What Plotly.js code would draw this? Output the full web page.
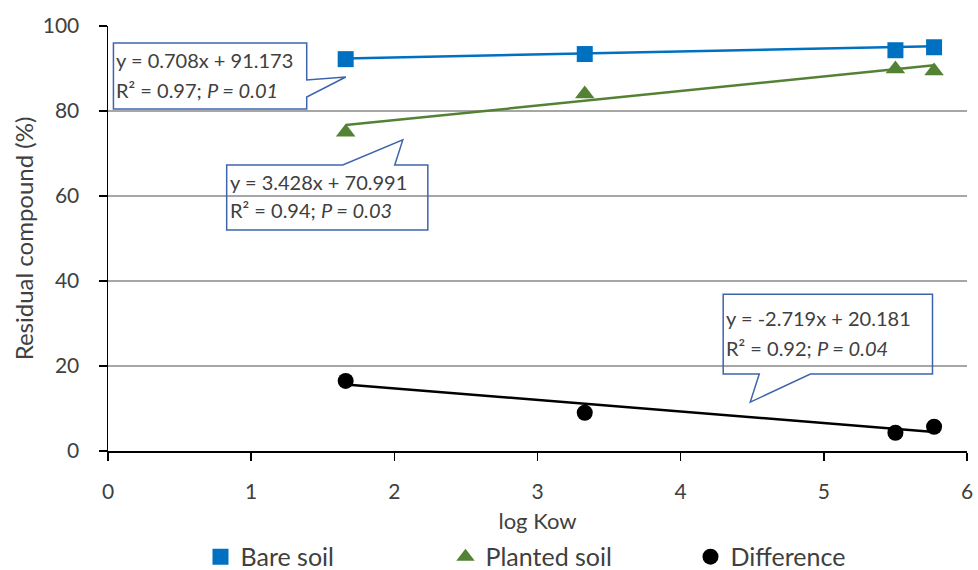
<!DOCTYPE html>
<html><head><meta charset="utf-8">
<script src="https://cdn.plot.ly/plotly-3.0.1.min.js"></script>
<style>html,body{margin:0;padding:0;background:#fff}#chart{width:978px;height:570px}</style>
</head><body><div id="chart"></div>
<script>
// Data
const logKow = [1.66, 3.33, 5.50, 5.77];
const bareSoil = [92.2, 93.4, 94.3, 95.0];
const plantedSoil = [75.0, 84.0, 89.9, 89.4];
const difference = [16.5, 9.0, 4.3, 5.7];
// Trendline endpoints (at min and max log Kow)
const trendX = [1.66, 5.77];
const bareTrend = [92.35, 95.26];
const plantedTrend = [76.68, 90.77];
const diffTrend = [15.67, 4.49];
const eqBare = ["y = 0.708x + 91.173", "R\u00B2 = 0.97; <i>P = 0.01</i>"];
const eqPlanted = ["y = 3.428x + 70.991", "R\u00B2 = 0.94; <i>P = 0.03</i>"];
const eqDiff = ["y = -2.719x + 20.181", "R\u00B2 = 0.92; <i>P = 0.04</i>"];
const xTicks = [0, 1, 2, 3, 4, 5, 6];
const yTicks = [0, 20, 40, 60, 80, 100];

const FONT = "Lato, 'Open Sans', sans-serif";
const TXT = "#404040";
const blue = "#0070C0", green = "#548235", black = "#000000";

const traces = [
  {x: trendX, y: bareTrend, mode: "lines", line: {color: blue, width: 2.5}, showlegend: false, hoverinfo: "skip"},
  {x: trendX, y: plantedTrend, mode: "lines", line: {color: green, width: 2.5}, showlegend: false, hoverinfo: "skip"},
  {x: trendX, y: diffTrend, mode: "lines", line: {color: black, width: 2.5}, showlegend: false, hoverinfo: "skip"},
  {x: logKow, y: bareSoil, name: "Bare soil", mode: "markers", marker: {symbol: "square", size: 16, color: blue}},
  {x: logKow, y: plantedSoil, name: "Planted soil", mode: "markers", marker: {symbol: "triangle-up", size: 17, color: green}},
  {x: logKow, y: difference, name: "Difference", mode: "markers", marker: {symbol: "circle", size: 16, color: black}}
];

const boxLine = {color: "#3F64AE", width: 1.5};
function callout(path){ return {type: "path", xref: "x", yref: "y", path: path, line: boxLine, fillcolor: "rgba(0,0,0,0)", layer: "above"}; }
const shapes = [
  callout("M0.038,96 L1.388,96 L1.388,87.3 L1.661,88.0 L1.388,83.3 L1.388,80.5 L0.038,80.5 Z"),
  callout("M0.829,67.3 L1.640,67.3 L2.059,73.2 L2.003,67.3 L2.234,67.3 L2.234,52.0 L0.829,52.0 Z"),
  callout("M4.297,36.9 L5.759,36.9 L5.759,18.1 L4.906,18.1 L4.486,11.5 L4.549,18.1 L4.297,18.1 Z")
];
function txt(x, y, t){ return {x: x, y: y, xref: "x", yref: "y", text: t, showarrow: false, xanchor: "left", yanchor: "middle", align: "left", font: {family: FONT, size: 20, color: TXT}}; }
const annotations = [
  txt(0.045, 92.0, eqBare[0]), txt(0.045, 85.0, eqBare[1]),
  txt(0.84, 63.4, eqPlanted[0]), txt(0.84, 56.6, eqPlanted[1]),
  txt(4.305, 31.3, eqDiff[0]), txt(4.305, 24.3, eqDiff[1])
];

const layout = {
  width: 978, height: 570,
  margin: {l: 108, r: 11, t: 26, b: 119},
  paper_bgcolor: "#fff", plot_bgcolor: "#fff",
  font: {family: FONT, size: 21, color: TXT},
  xaxis: {range: [0, 6], tickvals: xTicks, ticks: "outside", ticklen: 8, tickcolor: "#000", tickwidth: 1.5,
    showline: true, linecolor: "#000", linewidth: 1.5, showgrid: false, zeroline: false, automargin: false,
    ticklabelstandoff: 13, tickfont: {size: 21, color: TXT},
    title: {text: "log Kow", font: {size: 22, color: TXT}, standoff: 15}},
  yaxis: {range: [0, 100], tickvals: yTicks, ticks: "outside", ticklen: 8, tickcolor: "#000", tickwidth: 1.5,
    showline: true, linecolor: "#000", linewidth: 1.5, showgrid: true, gridcolor: "#A6A6A6", gridwidth: 1.5, zeroline: false, automargin: false,
    ticklabelstandoff: 15, tickfont: {size: 21, color: TXT},
    title: {text: "Residual compound (%)", font: {size: 24, color: TXT}, standoff: 2}},
  legend: {orientation: "h", xref: "container", x: 0.205, xanchor: "left", yref: "container", y: 0.023, yanchor: "middle",
    font: {size: 25, color: TXT}, entrywidth: 200, itemwidth: 30, tracegroupgap: 0},
  shapes: shapes, annotations: annotations, showlegend: true
};
Plotly.newPlot("chart", traces, layout, {displayModeBar: false, staticPlot: true});
</script></body></html>
